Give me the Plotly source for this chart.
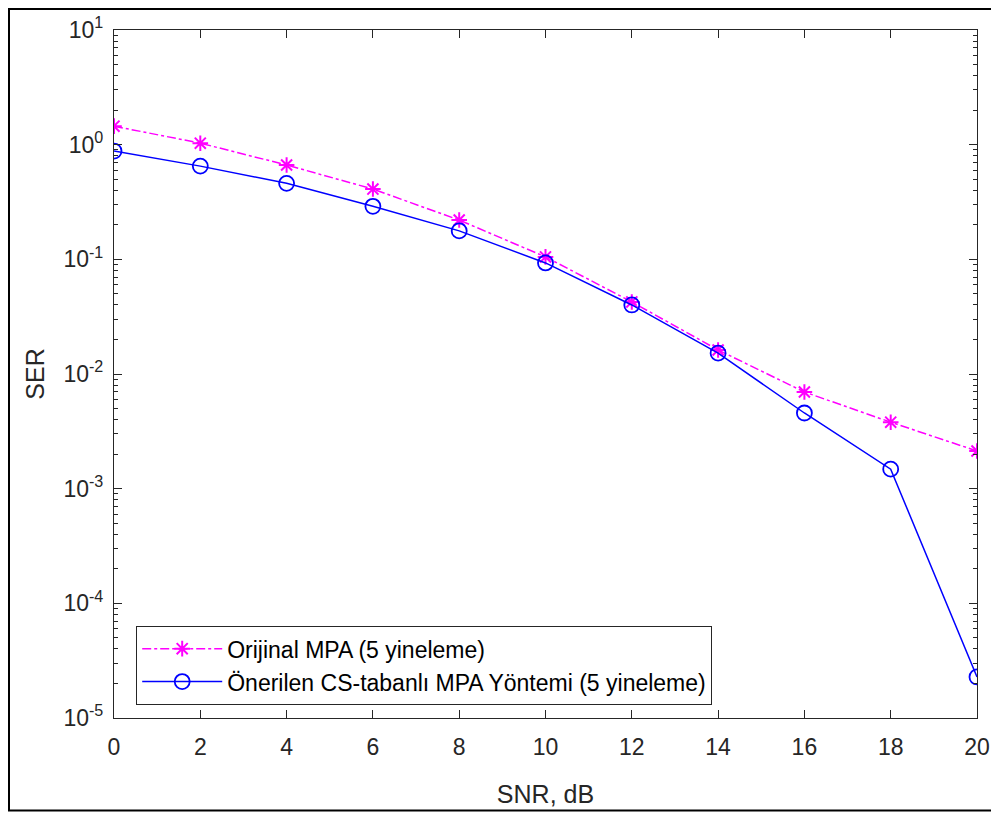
import plotly.graph_objects as go

snr_db = [0, 2, 4, 6, 8, 10, 12, 14, 16, 18, 20]
ser_original = [1.45, 1.03, 0.665, 0.41, 0.22, 0.105, 0.0425, 0.0162, 0.00697, 0.0038, 0.00213]
ser_proposed = [0.88, 0.65, 0.46, 0.29, 0.177, 0.093, 0.040, 0.0152, 0.00457, 0.00148, 2.28e-5]

name_original = "Orijinal MPA (5 yineleme)"
name_proposed = "Önerilen CS-tabanlı MPA Yöntemi (5 yineleme)"

y_tick_vals = [1e-5, 1e-4, 1e-3, 1e-2, 1e-1, 1e0, 1e1]
y_tick_text = ["10<sup>-5</sup>", "10<sup>-4</sup>", "10<sup>-3</sup>", "10<sup>-2</sup>",
               "10<sup>-1</sup>", "10<sup>0</sup>", "10<sup>1</sup>"]
x_tick_vals = [0, 2, 4, 6, 8, 10, 12, 14, 16, 18, 20]

font_family = "Liberation Sans, Arial, sans-serif"
axis_color = "#262626"

# page body adds an 8px offset; figure is shrunk by 8px so the page does not scroll,
# and margins place the plot area at 114..977 x 30..718 on screen
FW, FH = 991, 806
ML, MR, MT, MB = 106, 22, 22, 96
PW, PH = FW - ML - MR, FH - MT - MB

fig = go.Figure()
fig.add_trace(go.Scatter(
    x=snr_db, y=ser_original, name=name_original, mode="lines+markers",
    line=dict(color="#FF00FF", width=1.5, dash="dashdot"),
    marker=dict(symbol="asterisk-open", size=13, color="#FF00FF",
                line=dict(color="#FF00FF", width=2)),
))
fig.add_trace(go.Scatter(
    x=snr_db, y=ser_proposed, name=name_proposed, mode="lines+markers",
    line=dict(color="#0000FF", width=1.5),
    marker=dict(symbol="circle-open", size=15, color="#0000FF",
                line=dict(color="#0000FF", width=1.8)),
))

fig.update_layout(
    width=FW, height=FH,
    margin=dict(l=ML, r=MR, t=MT, b=MB, autoexpand=False),
    paper_bgcolor="white", plot_bgcolor="white",
    font=dict(family=font_family, size=23, color=axis_color),
    showlegend=True,
    legend=dict(
        x=(136 - 114) / PW, y=(718 - 626) / PH, xanchor="left", yanchor="top",
        bgcolor="white", bordercolor="#262626", borderwidth=1.2,
        font=dict(family=font_family, size=23, color="#000000"),
        itemwidth=80, tracegroupgap=0,
    ),
    shapes=[dict(type="rect", xref="paper", yref="paper",
                 x0=(9 - 114) / PW, x1=1.2, y0=(718 - 810.5) / PH, y1=(718 - 9) / PH,
                 line=dict(color="black", width=2), layer="below")],
)

fig.update_xaxes(
    range=[0, 20], tickvals=x_tick_vals, automargin=False,
    showgrid=False, zeroline=False,
    showline=True, linecolor=axis_color, linewidth=1.2, mirror="allticks",
    ticks="inside", ticklen=8, tickcolor=axis_color,
    tickfont=dict(size=23, color=axis_color), ticklabelstandoff=8,
    title=dict(text="SNR, dB", font=dict(size=25, color=axis_color), standoff=26),
)
fig.update_yaxes(
    type="log", range=[-5, 1], tickvals=y_tick_vals, ticktext=y_tick_text, automargin=False,
    showgrid=False, zeroline=False,
    showline=True, linecolor=axis_color, linewidth=1.2, mirror="allticks",
    ticks="inside", ticklen=8, tickcolor=axis_color,
    tickfont=dict(size=23, color=axis_color), ticklabelstandoff=5,
    minor=dict(ticks="inside", ticklen=4, tickcolor=axis_color, dtick="D1", showgrid=False),
    title=dict(text="SER", font=dict(size=25, color=axis_color), standoff=11),
)

fig.write_html("out.html")
